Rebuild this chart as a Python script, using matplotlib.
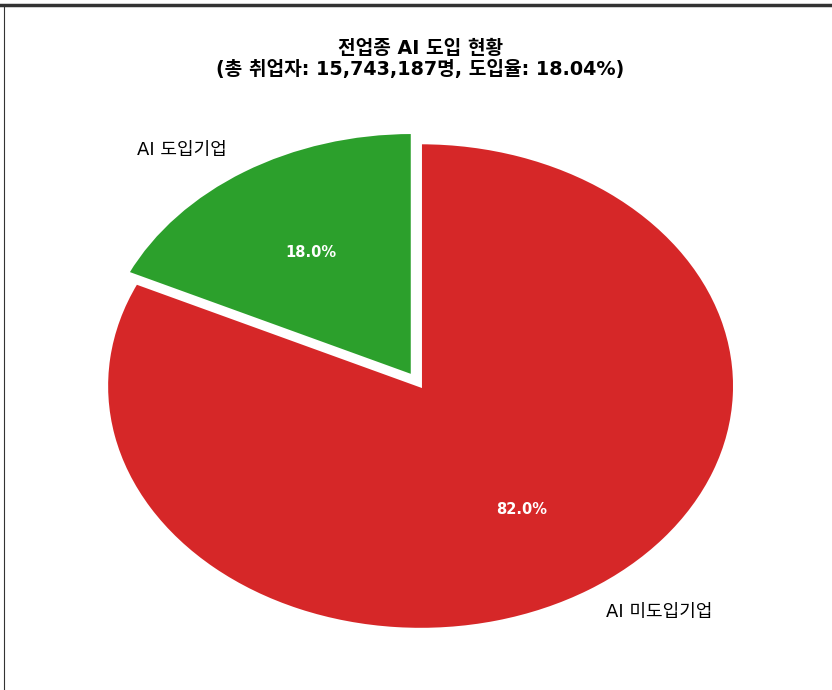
import matplotlib.pyplot as plt
from matplotlib.lines import Line2D

# Latin text and digits from DejaVu, Hangul falls through to Noto CJK
plt.rcParams['font.family'] = ['DejaVu Sans', 'Noto Sans CJK KR']

labels = ['AI 도입기업', 'AI 미도입기업']
shares = [18.04, 81.96]
colors = ['#2ca02c', '#d62728']
explode = [0.05, 0.0]
total_workers = 15743187

fig = plt.figure(figsize=(8.32, 6.9), dpi=100)
ax = fig.add_axes([0.034, 0.0, 0.943, 0.881])

wedges, texts, autotexts = ax.pie(
    shares, labels=labels, colors=colors, explode=explode,
    autopct='%1.1f%%', startangle=90, counterclock=True,
    wedgeprops=dict(edgecolor='white', linewidth=2),
    textprops=dict(fontsize=13),
)
for t in autotexts:
    t.set_color('white')
    t.set_fontweight('bold')
    t.set_fontsize(10.5)

# stretch the pie to fill the axes box
ax.set_aspect('auto')
ax.set_xlim(-1.25, 1.25)
ax.set_ylim(-1.25, 1.25)

fig.text(0.505, 1 - 59 / 690,
         f'전업종 AI 도입 현황\n(총 취업자: {total_workers:,}명, 도입율: {shares[0]:.2f}%)',
         ha='center', va='center', fontsize=13.8, fontweight='bold', linespacing=1.15)

# frame edges
fig.add_artist(Line2D([0, 1], [1 - 5 / 690] * 2, transform=fig.transFigure,
                      color='#333333', linewidth=2.5))
fig.add_artist(Line2D([4 / 832] * 2, [0, 1 - 5 / 690], transform=fig.transFigure,
                      color='#333333', linewidth=0.8))

fig.savefig('out.png', dpi=100)
